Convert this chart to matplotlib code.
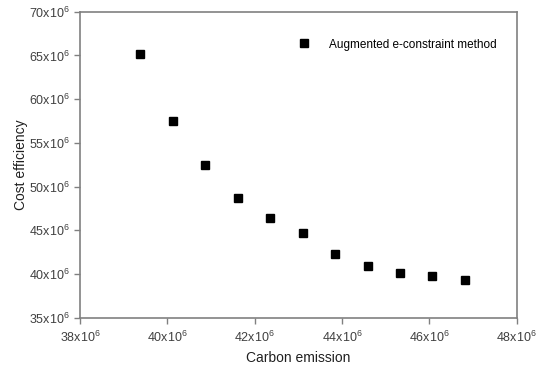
import matplotlib
matplotlib.use("Agg")
import matplotlib.pyplot as plt
from matplotlib.ticker import FuncFormatter, MultipleLocator

plt.rcParams['font.family'] = ['Liberation Sans', 'DejaVu Sans']
plt.rcParams['mathtext.fontset'] = 'custom'
plt.rcParams['mathtext.rm'] = 'Liberation Sans'
plt.rcParams['mathtext.it'] = 'Liberation Sans'

carbon = [39.38e6, 40.14e6, 40.87e6, 41.61e6, 42.36e6, 43.10e6, 43.84e6, 44.59e6, 45.33e6, 46.07e6, 46.83e6]
cost = [65.16e6, 57.53e6, 52.5e6, 48.72e6, 46.36e6, 44.71e6, 42.28e6, 40.94e6, 40.10e6, 39.76e6, 39.27e6]
series_name = "Augmented e-constraint method"

fig = plt.figure(figsize=(5.42, 3.68), dpi=100)
ax = fig.add_axes([80/542, 1-317.7/368, (516.5-80)/542, (317.7-11.7)/368])
ax.plot(carbon, cost, linestyle='none', marker='s', markersize=6, color='black', label=series_name)

ax.set_xlim(38e6, 48e6)
ax.set_ylim(35e6, 70e6)
ax.xaxis.set_major_locator(MultipleLocator(2e6))
ax.yaxis.set_major_locator(MultipleLocator(5e6))
fmt = FuncFormatter(lambda v, p: r"$\mathregular{%dx10^6}$" % round(v/1e6))
ax.xaxis.set_major_formatter(fmt)
ax.yaxis.set_major_formatter(fmt)

for s in ax.spines.values():
    s.set_color('#808080')
    s.set_linewidth(1.2)
ax.tick_params(direction='out', length=4, width=1, color='#808080', labelsize=9, labelcolor='#404040')
ax.tick_params(axis='x', pad=5)

ax.set_xlabel("Carbon emission", fontsize=10, color='#202020', labelpad=4)
ax.set_ylabel("Cost efficiency", fontsize=10, color='#202020', labelpad=0.5)

ax.legend(loc='upper right', bbox_to_anchor=(0.978, 0.947), frameon=False, fontsize=8.5,
          handletextpad=1.1, markerscale=1.0, numpoints=1)

fig.savefig("out.png", dpi=100)
